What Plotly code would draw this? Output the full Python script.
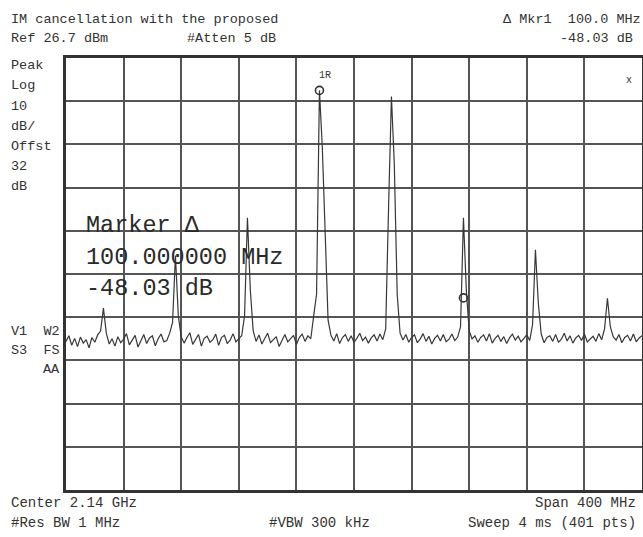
import plotly.graph_objects as go

# ---- data ----
start_mhz = 1940
step_mhz = 2
trace_dbm = [
    -38.9, -37.6, -39.8, -38.2, -40.1, -37.9, -39.3, -38.5, -40.4, -38.0,
    -39.1, -37.4, -36.5, -31.2, -37.0, -39.5, -38.3, -40.0, -37.8, -39.2,
    -38.4, -37.1, -39.7, -38.6, -37.5, -40.2, -38.8, -37.3, -39.4, -38.1,
    -37.6, -39.9, -38.3, -37.2, -39.0, -38.7, -37.0, -34.5, -19.0, -33.0,
    -37.8, -39.3, -38.0, -36.9, -39.6, -38.4, -37.3, -40.0, -38.2, -37.7,
    -39.1, -38.5, -37.2, -39.8, -38.0, -37.5, -39.4, -38.6, -37.1, -39.0,
    -38.3, -37.6, -33.0, -10.3, -27.0, -36.5, -38.9, -37.4, -39.5, -38.1,
    -37.0, -39.2, -38.4, -37.8, -40.1, -38.6, -37.3, -39.0, -38.2, -37.5,
    -39.6, -38.0, -37.2, -38.9, -37.6, -38.3, -33.0, -28.0, 19.2, 6.0,
    -14.0, -34.0, -37.5, -38.8, -37.1, -39.4, -38.0, -37.3, -38.9, -37.6,
    -39.1, -38.2, -37.0, -38.7, -37.9, -39.3, -38.1, -37.4, -38.8, -37.2,
    -38.5, -36.0, -8.0, 17.8, 2.0, -28.0, -37.0, -38.6, -37.3, -39.1,
    -38.0, -37.4, -39.2, -38.3, -37.1, -38.9, -37.7, -39.5, -38.2, -37.5,
    -38.8, -37.3, -39.0, -38.4, -37.2, -38.7, -37.9, -35.5, -10.3, -27.0,
    -36.5, -38.3, -37.6, -39.1, -38.0, -37.4, -38.8, -37.1, -39.3, -38.2,
    -37.5, -38.9, -37.8, -39.4, -38.1, -37.2, -38.6, -37.7, -39.0, -38.3,
    -37.4, -38.7, -35.0, -17.7, -30.0, -37.2, -39.2, -38.0, -37.6, -38.9,
    -37.3, -39.1, -38.4, -37.0, -38.8, -37.6, -39.3, -38.1, -37.5, -38.7,
    -37.2, -39.0, -38.3, -37.7, -38.9, -37.1, -38.5, -36.0, -28.9, -35.5,
    -37.8, -38.6, -37.3, -39.2, -38.0, -37.5, -38.8, -37.2, -39.0, -38.1,
    -37.6,
]
freq_mhz = [start_mhz + step_mhz * i for i in range(len(trace_dbm))]

ref_level_dbm = 26.7
db_per_div = 10
center_mhz = 2140
span_mhz = 400

marker_freq_mhz = [2116, 2216]
marker_ref_dbm = 19.2
marker_delta_db = -48.03
marker_dbm = [marker_ref_dbm, marker_ref_dbm + marker_delta_db]

header_left = ["IM cancellation with the proposed", "Ref 26.7 dBm"]
header_atten = "#Atten 5 dB"
header_right = ["\u0394 Mkr1  100.0 MHz", "-48.03 dB"]
side_labels = ["Peak", "Log", "10", "dB/", "Offst", "32", "dB"]
side_labels2 = ["V1  W2", "S3  FS", "AA"]
footer_left = ["Center 2.14 GHz", "#Res BW 1 MHz"]
footer_mid = "#VBW 300 kHz"
footer_right = ["Span 400 MHz", "Sweep 4 ms (401 pts)"]
marker_box = ["Marker \u0394", "100.000000 MHz", "-48.03 dB"]

# ---- layout geometry (pixels) ----
W, H = 647, 537          # page window is 643 wide; right edge of grid falls just outside
L, R, T, B = 66, 645, 58, 490


def px(x):
    return (x - L) / (R - L)


def py(y):
    return (B - y) / (B - T)


TXT = "#333333"
FONT = "Liberation Mono"

fig = go.Figure()
fig.add_trace(go.Scatter(x=freq_mhz, y=trace_dbm, mode="lines",
                         line=dict(color="#383838", width=1.2),
                         hoverinfo="skip", showlegend=False))
fig.add_trace(go.Scatter(x=marker_freq_mhz, y=marker_dbm, mode="markers",
                         marker=dict(symbol="circle-open", size=8,
                                     color="#333", line=dict(width=1.6)),
                         showlegend=False))

ann = []


def add(text, x, y, size=14, xanchor="left", color=TXT):
    ann.append(dict(text=text, x=px(x), y=py(y), xref="paper", yref="paper",
                    xanchor=xanchor, yanchor="middle", showarrow=False,
                    font=dict(family=FONT, size=size, color=color)))


add(header_left[0], 9, 19, 13.5)
add(header_left[1], 9, 38, 13.5)
add(header_atten, 186, 38, 13.5)
add(header_right[0], 646, 19, 13.5, "right")
add(header_right[1], 638, 38, 13.5, "right")
for i, s in enumerate(side_labels):
    add(s, 9, 66 + 20 * i, 13.5)
add(side_labels2[0], 9, 331, 13.5)
add(side_labels2[1], 9, 350, 13.5)
add(side_labels2[2], 62, 369, 13.5, "right")
add(footer_left[0], 9, 503, 14)
add(footer_left[1], 9, 523, 14)
add(footer_mid, 268, 523, 14)
add(footer_right[0], 641, 503, 14, "right")
add(footer_right[1], 641, 523, 14, "right")
for i, s in enumerate(marker_box):
    add(s, 84, 226 + 31 * i, 23.5, color="#2a2a2a")
add("1R", 318, 75, 10)
add("x", 627, 80, 10)

fig.update_layout(
    width=W, height=H,
    margin=dict(l=L, r=W - R, t=T, b=H - B, pad=0),
    paper_bgcolor="white", plot_bgcolor="white",
    annotations=ann,
    xaxis=dict(range=[center_mhz - span_mhz / 2, center_mhz + span_mhz / 2],
               tick0=center_mhz - span_mhz / 2, dtick=span_mhz / 10,
               showgrid=True, gridcolor="#555", gridwidth=1.5,
               showticklabels=False, ticks="", zeroline=False,
               showline=True, mirror=True, linecolor="#333", linewidth=2.5),
    yaxis=dict(range=[ref_level_dbm - 10 * db_per_div, ref_level_dbm],
               tick0=ref_level_dbm, dtick=db_per_div,
               showgrid=True, gridcolor="#555", gridwidth=1.5,
               showticklabels=False, ticks="", zeroline=False,
               showline=True, mirror=True, linecolor="#333", linewidth=2.5),
)

fig.write_html("out.html",
               config={"displayModeBar": False},
               post_script="document.body.style.margin='0';"
                           "document.body.style.overflow='hidden';")
